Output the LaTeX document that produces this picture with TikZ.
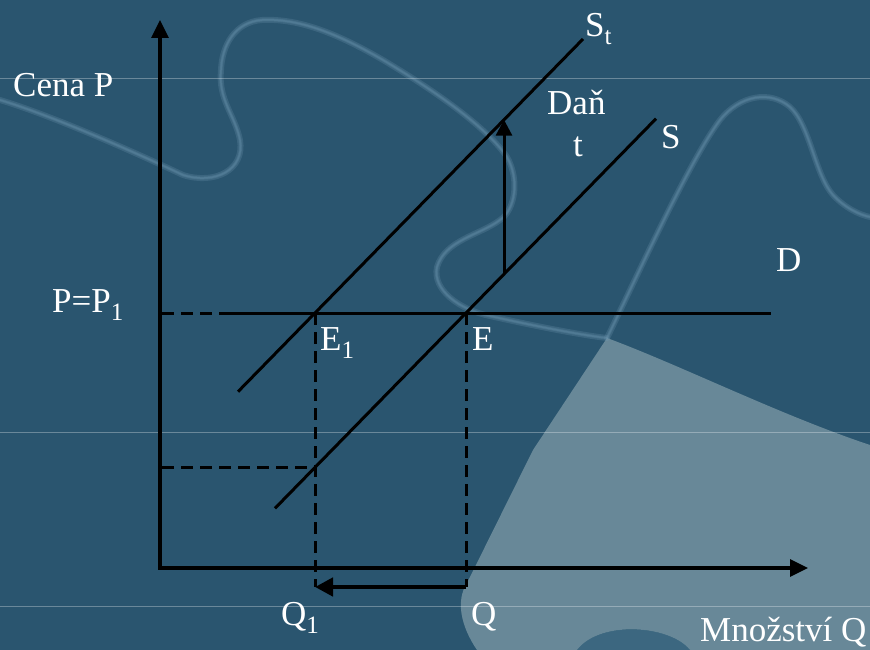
\documentclass[tikz,border=0pt]{standalone}
\usepackage{fontspec}
\setmainfont{Liberation Serif}
\usetikzlibrary{arrows.meta}
\definecolor{bgblue}{RGB}{42,85,111}
\definecolor{bglight}{RGB}{104,136,152}
\definecolor{bgblob}{RGB}{72,116,140}
\definecolor{edgeblue}{RGB}{110,150,175}
\newcommand{\lsub}[1]{\raisebox{-8pt}{\fontsize{25}{25}\selectfont #1}}
\begin{document}
\begin{tikzpicture}[x=1pt,y=-1pt,
  curve/.style={line width=3pt},
  dashline/.style={line width=3pt,dash pattern=on 12pt off 7pt},
  lbl/.style={text=white,font=\fontsize{35}{40}\selectfont,inner sep=0pt,anchor=base west},
  glow/.style={edgeblue,line width=#1,opacity=0.25,line cap=round,line join=round},
  tip/.style={-{Triangle[length=16pt,width=16pt]}}]
\useasboundingbox (0,0) rectangle (870,650);
% background
\fill[bgblue] (0,0) rectangle (870,650);
\fill[bglight] (477,650) .. controls (460,625) and (456,600) .. (467,583)
  -- (533,450) -- (607,338)
  .. controls (680,365) and (780,415) .. (870,445) -- (870,650)
  -- (690,650) .. controls (670,625) and (600,620) .. (577,650) -- cycle;
\fill[bgblob,opacity=0.6] (690,650) .. controls (670,625) and (600,620) .. (577,650) -- cycle;
\foreach \w in {6pt,3pt,1.5pt}{
\draw[glow=\w] (0,100) .. controls (50,115) and (130,150) .. (183,175)
  .. controls (215,185) and (245,170) .. (240,140)
  .. controls (235,115) and (218,100) .. (221,70)
  .. controls (222,45) and (235,22) .. (262,20)
  .. controls (300,18) and (340,35) .. (383,60)
  .. controls (430,88) and (485,125) .. (507,157)
  .. controls (520,180) and (515,210) .. (500,220)
  .. controls (480,235) and (445,240) .. (437,267)
  .. controls (432,290) and (460,310) .. (490,316)
  .. controls (530,325) and (580,335) .. (607,338);
\draw[glow=\w] (607,338) .. controls (640,270) and (690,160) .. (720,120)
  .. controls (740,95) and (770,90) .. (790,107)
  .. controls (810,125) and (815,175) .. (833,195)
  .. controls (845,208) and (860,215) .. (870,217);
}
\foreach \yy in {78,432,606}
  \draw[white,opacity=0.3,line width=0.8pt] (0,\yy) -- (870,\yy);
% key points
\coordinate (Ytip) at (160,20);
\coordinate (O) at (160,568);
\coordinate (Xtip) at (808,568);
\coordinate (Pax) at (162,313);
\coordinate (Dleft) at (228,313);
\coordinate (Dright) at (771,313);
\coordinate (E1) at (315,313);
\coordinate (E) at (466,313);
\coordinate (Stbot) at (238,391.7);
\coordinate (Sttop) at (583,39);
\coordinate (Sbot) at (275,508.3);
\coordinate (Stop) at (656,118.7);
\coordinate (Plow) at (162,467.4);
\coordinate (Slow) at (315,467.4);
\coordinate (Q1b) at (315,587);
\coordinate (Qb) at (466,587);
\coordinate (Tlow) at (504,274);
\coordinate (Thigh) at (504,119.7);
% axes
\draw[line width=3.3pt,{Triangle[length=18pt,width=17pt]}-{Triangle[length=18pt,width=17pt]}] (Ytip) -- (O) -- (Xtip);
% demand line
\draw[dashline] (Pax) -- (Dleft);
\draw[curve] (Dleft) -- (Dright);
% supply lines
\draw[curve] (Stbot) -- (Sttop);
\draw[curve] (Sbot) -- (Stop);
% dashed guides
\draw[dashline] (E1) -- (Q1b);
\draw[dashline] (E) -- (Qb);
\draw[dashline] (Plow) -- (Slow);
% tax arrow
\draw[curve,tip] (Tlow) -- (Thigh);
% quantity shift arrow
\draw[line width=4.5pt,-{Triangle[length=18pt,width=18pt]}] (Qb) -- (Q1b);
% labels
\node[lbl] (cena) at (13,97) {Cena P};
\node[lbl] (pp1) at (52,312) {P=P\lsub{1}};
\node[lbl] (st) at (585,37) {S\lsub{t}};
\node[lbl] (dan) at (547,115) {Daň};
\node[lbl] (tt) at (573,157) {t};
\node[lbl] (ss) at (661,149) {S};
\node[lbl] (dd) at (776,271) {D};
\node[lbl] (e1) at (320,350) {E\lsub{1}};
\node[lbl] (ee) at (472,350) {E};
\node[lbl] (q1) at (281,625) {Q\lsub{1}};
\node[lbl] (qq) at (471,625) {Q};
\node[lbl] (mq) at (700,641) {Množství Q};
\end{tikzpicture}
\end{document}
